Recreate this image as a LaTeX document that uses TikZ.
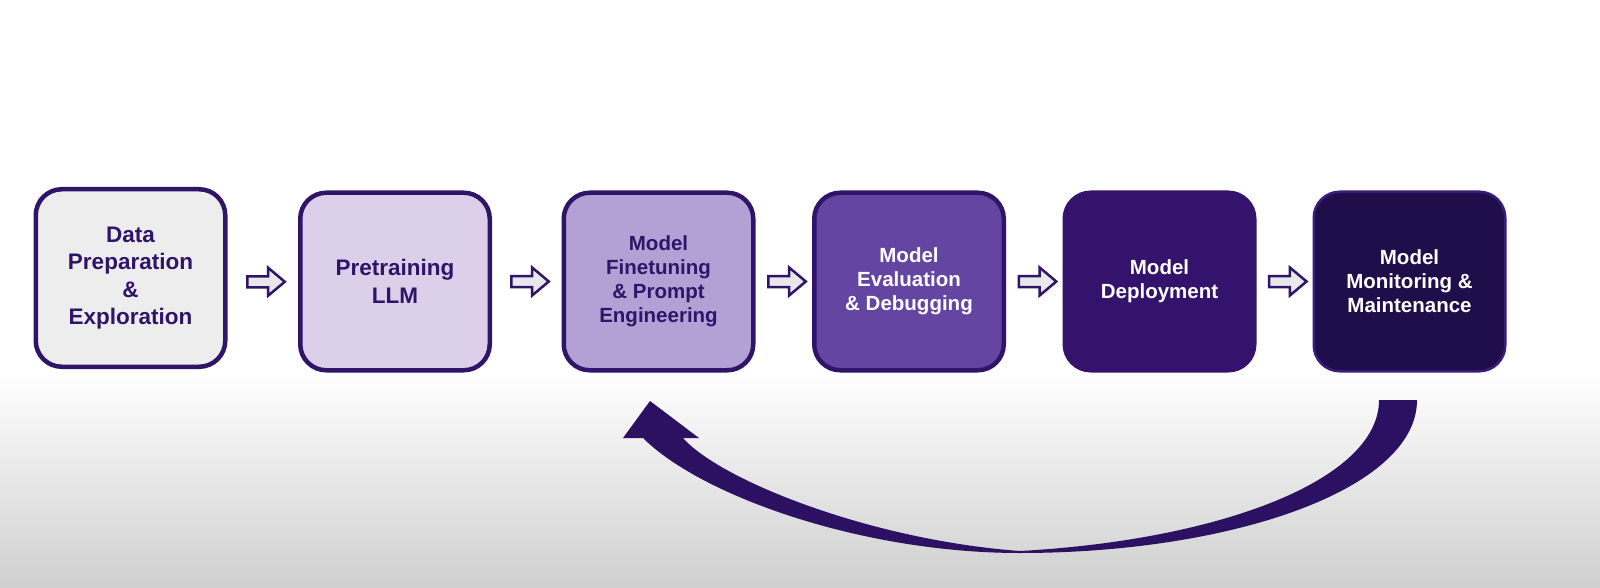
\documentclass[tikz,border=0pt]{standalone}
\usepackage{fontspec}
\setmainfont{Liberation Sans}
\usetikzlibrary{shapes.arrows,calc}
\definecolor{edgepurple}{RGB}{47,20,104}
\definecolor{stageone}{RGB}{237,237,238}
\definecolor{stagetwo}{RGB}{220,207,233}
\definecolor{stagethree}{RGB}{179,161,213}
\definecolor{stagefour}{RGB}{101,69,162}
\definecolor{stagefive}{RGB}{52,19,109}
\definecolor{stagesix}{RGB}{32,14,74}
\definecolor{sixedge}{RGB}{58,28,126}
\definecolor{arrowgray}{RGB}{232,232,236}
\definecolor{loopcol}{RGB}{44,17,98}
\definecolor{bggray}{RGB}{207,207,207}
\begin{document}
\begin{tikzpicture}[x=1pt,y=-1pt,
    stage/.style={draw=edgepurple,line width=4.5pt,rounded corners=26pt,
      minimum width=189.5pt,minimum height=177.5pt,align=center,inner sep=0pt},
    bigtext/.style={font=\bfseries\fontsize{22.5}{27.5}\selectfont},
    smalltext/.style={font=\bfseries\fontsize{20.5}{24}\selectfont},
    stepper/.style={single arrow,draw=edgepurple,fill=arrowgray,line width=2.5pt,
      minimum height=37.5pt,single arrow head extend=8.5pt,
      single arrow tip angle=80,inner xsep=0pt,inner ysep=4.25pt}]
      \useasboundingbox (0,0) rectangle (1600,588);
      \fill[white] (0,0) rectangle (1600,372);
      \shade[top color=white,bottom color=bggray] (0,372) rectangle (1600,588);
      \node[stage,bigtext,fill=stageone,text=edgepurple] (b1) at (130.5,278)
        {Data\\Preparation\\\&\\Exploration};
      \node[stage,bigtext,fill=stagetwo,text=edgepurple] (b2) at (395,281.5)
        {Pretraining\\LLM};
      \node[stage,smalltext,fill=stagethree,text=edgepurple] (b3) at (658.5,281.5)
        {Model\\Finetuning\\\& Prompt\\Engineering};
      \node[stage,smalltext,fill=stagefour,text=white] (b4) at (909,281.5)
        {Model\\Evaluation\\\& Debugging};
      \node[stage,smalltext,fill=stagefive,draw=stagefive,text=white] (b5) at (1159.5,281.5)
        {Model\\Deployment};
      \node[stage,smalltext,fill=stagesix,draw=sixedge,line width=2.5pt,
        minimum width=191.5pt,minimum height=179.5pt,text=white] (b6) at (1409.5,281.5)
        {Model\\Monitoring \&\\Maintenance};
      \node[stepper] (a1) at ($(b1.east)!0.5!(b2.west)+(0,2)$) {};
      \node[stepper] (a2) at ($(b2.east)!0.5!(b3.west)$) {};
      \node[stepper] (a3) at ($(b3.east)!0.5!(b4.west)$) {};
      \node[stepper] (a4) at ($(b4.east)!0.5!(b5.west)$) {};
      \node[stepper] (a5) at ($(b5.east)!0.5!(b6.west)$) {};
      \coordinate (loopstart) at (1398,400);
      \coordinate (looptip) at (650,401);
      \fill[loopcol] (1417,400) .. controls (1417,490) and (1230,553) .. (1020,553)
        .. controls (860,553) and (700,495) .. (643,438) -- (623,438) -- (looptip)
        -- (699,438) -- (683,438)
        .. controls (720,480) and (870,540) .. (1020,551)
        .. controls (1220,540) and (1379,480) .. (1379,400) -- cycle;
      \end{tikzpicture}
\end{document}
